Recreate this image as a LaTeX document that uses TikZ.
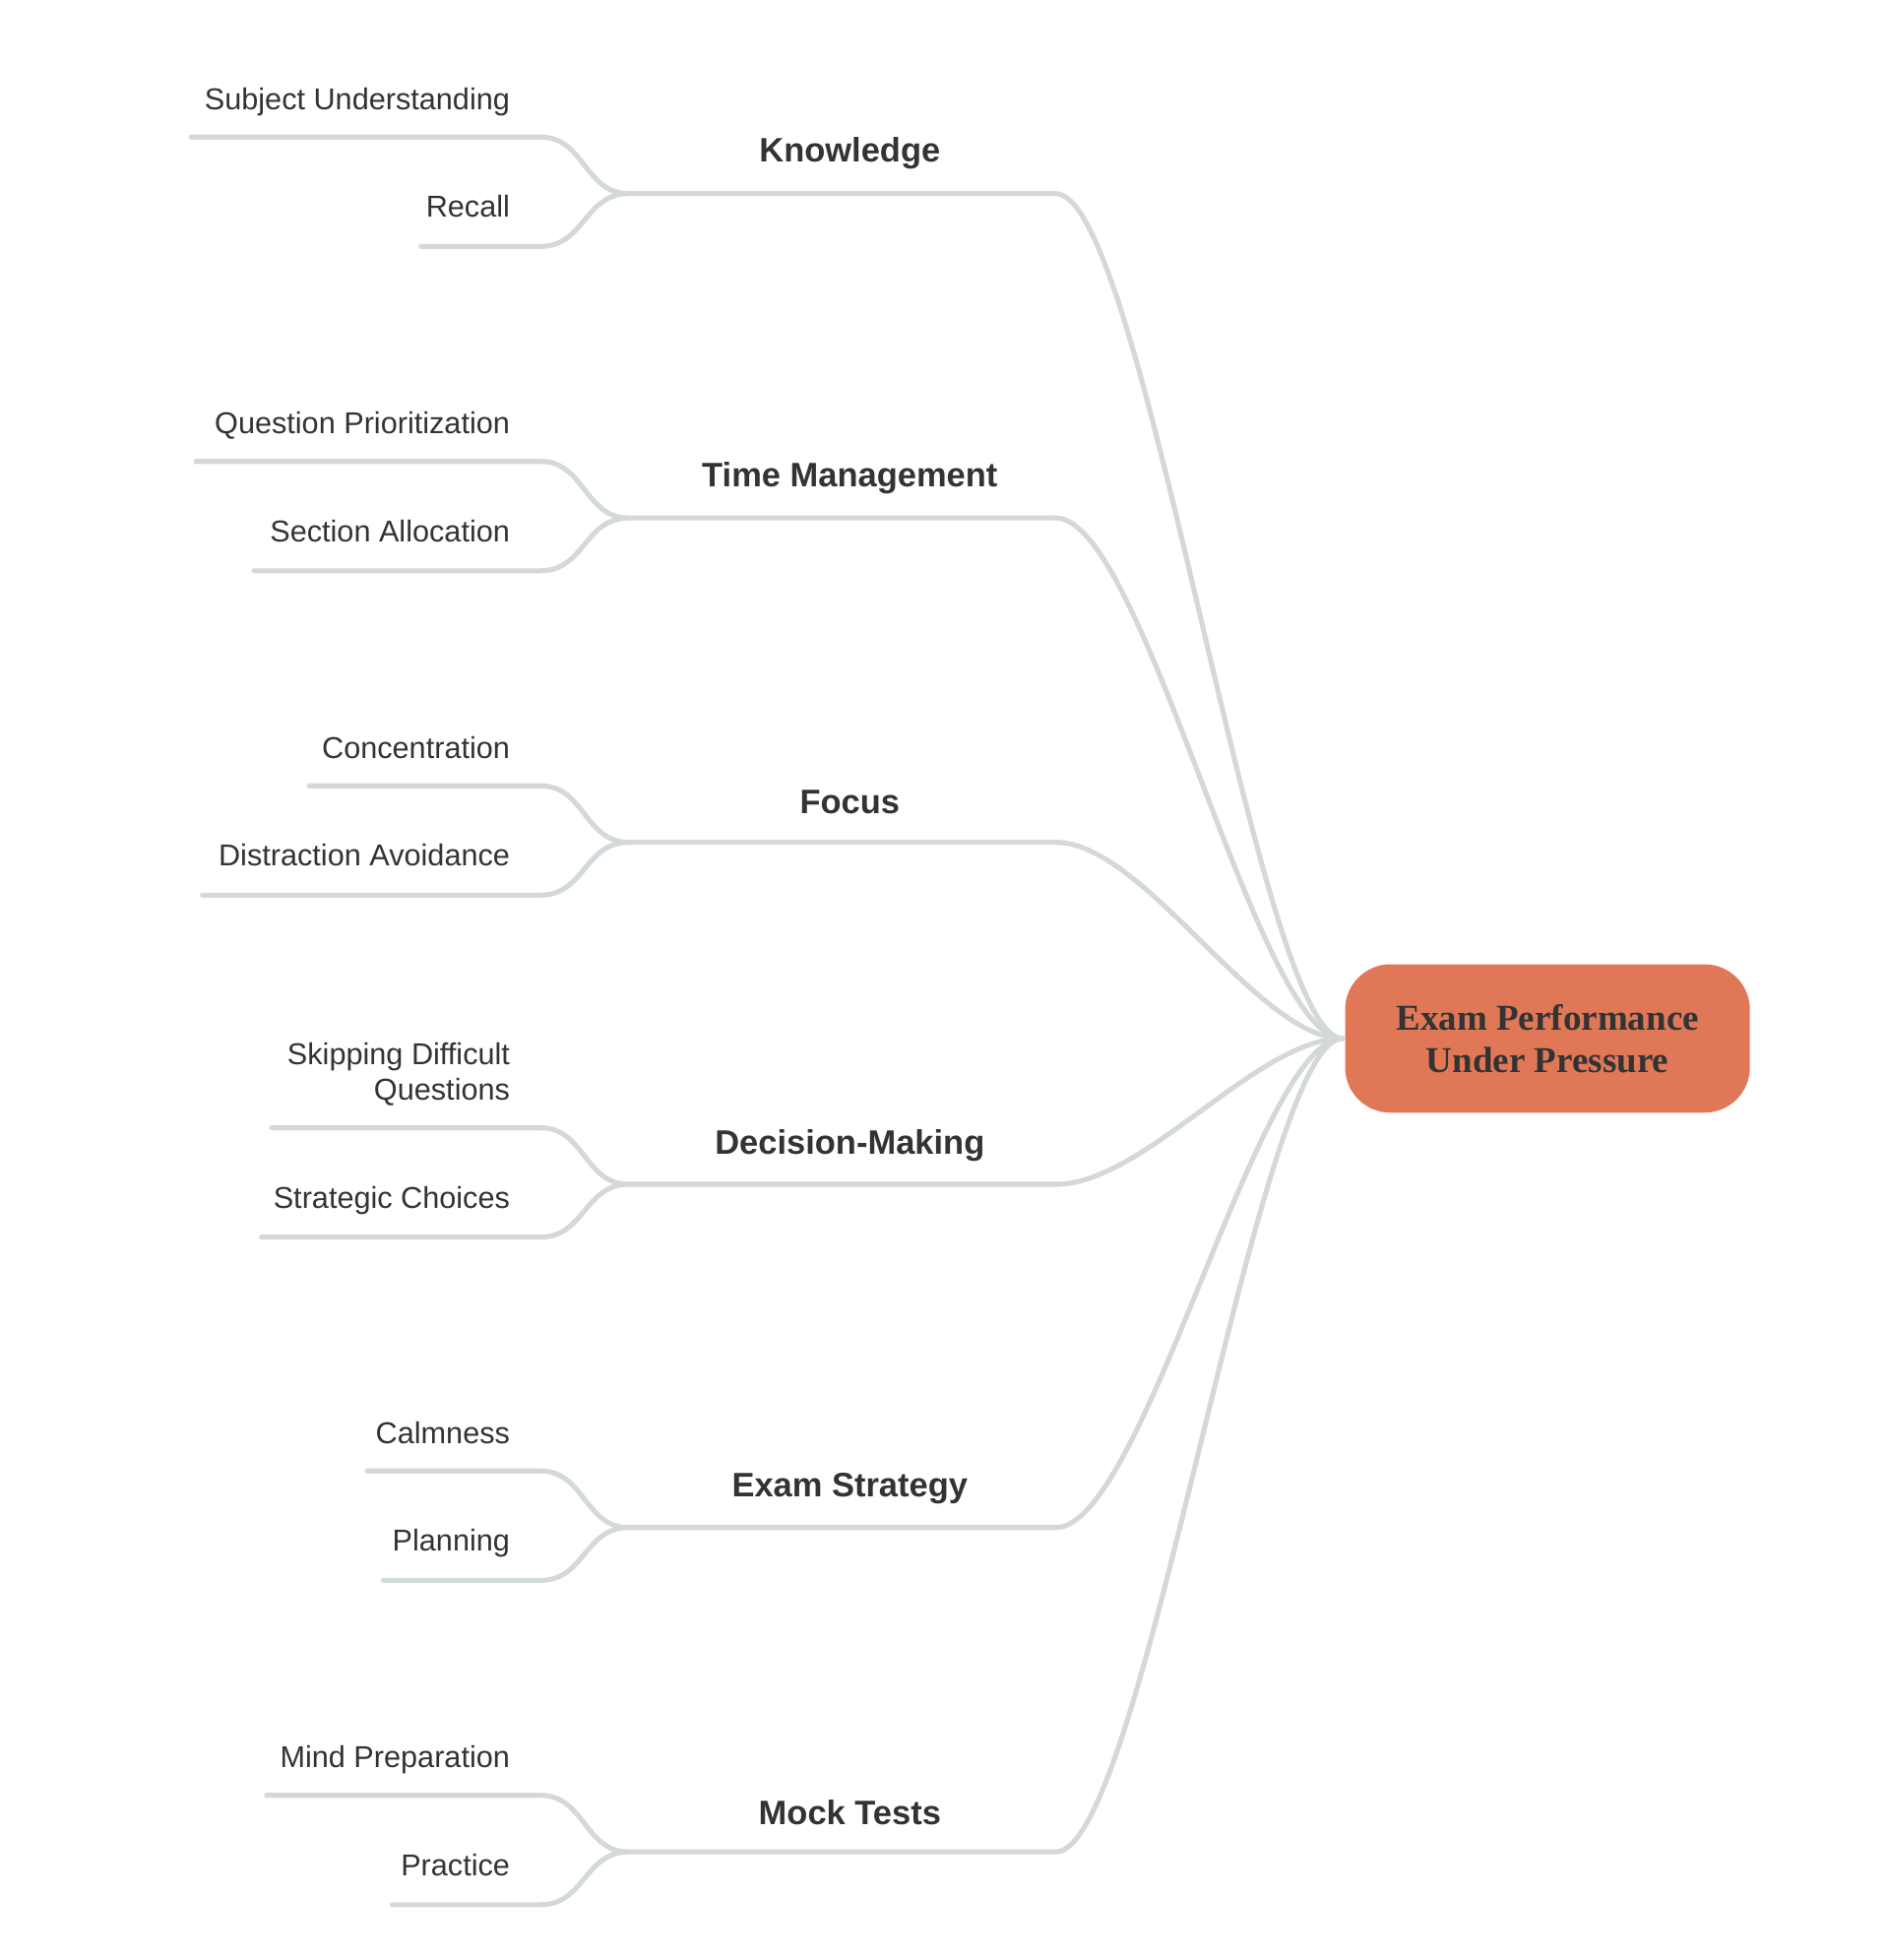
\documentclass[tikz,border=0pt]{standalone}
\usepackage{fontspec}
\setmainfont{Liberation Sans}
\newfontfamily\cserif{Liberation Serif}
\definecolor{edge}{HTML}{D3D9D6}
\definecolor{txt}{HTML}{333333}
\definecolor{ctr}{HTML}{E07858}
\begin{document}
\begin{tikzpicture}[x=0.5pt,y=-0.5pt,
  con/.style={draw=edge,line width=2pt,line cap=round},
  leaf/.style={anchor=east,text=txt,font=\fontsize{12}{14}\selectfont,align=right,inner sep=0pt},
  br/.style={text=txt,font=\bfseries\fontsize{13.5}{16}\selectfont,inner sep=0pt},
  center/.style={fill=ctr,rounded corners=18pt,minimum width=161pt,minimum height=59pt,text=txt,font=\cserif\bfseries\fontsize{14.5}{17}\selectfont,align=center}]
\useasboundingbox (0,0) rectangle (1500,1559);
\node[center] (root) at (1231,826) {Exam Performance\\Under Pressure};
\coordinate (rc) at (1068,826);
\foreach \n/\lab/\y/\ly/\ax/\bx/\at/\bt in {
 k/Knowledge/154/122/152/335/Subject Understanding/Recall,
 t/Time Management/412/380/156/202/Question Prioritization/Section Allocation,
 f/Focus/670/638/246/161/Concentration/Distraction Avoidance,
 d/Decision-Making/942/911/216/208/{Skipping Difficult\\Questions}/Strategic Choices,
 e/Exam Strategy/1215/1184/292/305/Calmness/Planning,
 m/Mock Tests/1473/1442/212/312/Mind Preparation/Practice}{
  \node[br] (\n) at (676,\ly) {\lab};
  \coordinate (\n s) at (500,\y);
  \coordinate (\n e) at (840,\y);
  \draw[con] (\n s) -- (\n e) .. controls (910,\y) and (1000,826) .. (rc);
  \coordinate (\n a1) at (\ax,\y-45); \coordinate (\n a2) at (430,\y-45);
  \coordinate (\n b1) at (\bx,\y+42); \coordinate (\n b2) at (430,\y+42);
  \draw[con] (\n a1) -- (\n a2) .. controls (465,\y-45) and (465,\y) .. (\n s);
  \draw[con] (\n b1) -- (\n b2) .. controls (465,\y+42) and (465,\y) .. (\n s);
  \node[leaf,anchor=base east] (\n A) at (406,\y-67) {\at};
  \node[leaf,anchor=base east] (\n B) at (406,\y+19) {\bt};
}
\end{tikzpicture}
\end{document}
